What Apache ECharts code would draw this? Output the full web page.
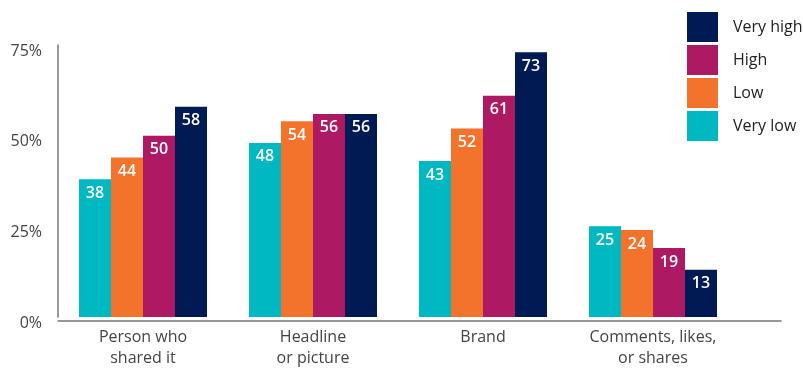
<!DOCTYPE html>
<html><head><meta charset="utf-8">
<script src="https://cdn.jsdelivr.net/npm/echarts@6/dist/echarts.min.js"></script>
<style>html,body{margin:0;padding:0;background:#fff}#c{width:803px;height:369px}</style>
</head><body><div id="c"></div>
<script>
const categories = ['Person who\nshared it', 'Headline\nor picture', 'Brand', 'Comments, likes,\nor shares'];
const veryLow = [38, 48, 43, 25];
const low = [44, 54, 52, 24];
const high = [50, 56, 61, 19];
const veryHigh = [58, 56, 73, 13];
const yTicks = [0, 25, 50, 75];
const FONT = 'Open Sans';
const colors = {vl:'#00B8C1', l:'#F3722C', h:'#AD1962', vh:'#001A54'};
const chart = echarts.init(document.getElementById('c'));
function s(name, data, color){
  return {name, type:'bar', data, barWidth:32, barGap:'0%', itemStyle:{color},
    label:{show:true, position:'insideTop', distance:6, color:'#fff', fontFamily:FONT, fontSize:16, fontWeight:600}};
}
chart.setOption({
  animation:false,
  textStyle:{fontFamily:FONT},
  legend:{orient:'vertical', left:682, top:7, itemWidth:31, itemHeight:30, itemGap:3, icon:'rect',
    data:['Very high','High','Low','Very low'], textStyle:{fontSize:16, color:'#222', fontFamily:FONT, padding:[0,0,0,10]}, itemStyle:{borderWidth:0}},
  grid:[{left:58, right:65, top:45, bottom:48},{left:58, right:22, top:45, bottom:48}],
  xAxis:[{type:'category', data:categories, gridIndex:0, axisLine:{show:false}, axisTick:{show:false},
     axisLabel:{color:'#444', fontSize:16, lineHeight:21, margin:10, fontFamily:FONT}},
    {type:'value', gridIndex:1, min:0, max:1, axisLine:{show:true, lineStyle:{color:'#777', width:1.5}}, axisTick:{show:false}, axisLabel:{show:false}, splitLine:{show:false}}],
  yAxis:[{type:'value', gridIndex:0, min:0, max:75, interval:25, axisLine:{show:true, lineStyle:{color:'#777', width:1.5}}, axisTick:{show:false}, splitLine:{show:false},
     axisLabel:{formatter:v=>yTicks.includes(v)?v+'%':'', color:'#444', fontSize:16, margin:16, verticalAlign:'top', lineHeight:12, fontFamily:FONT}},
    {type:'value', gridIndex:1, min:0, max:1, show:false}],
  series:[s('Very low', veryLow, colors.vl), s('Low', low, colors.l), s('High', high, colors.h), s('Very high', veryHigh, colors.vh)]
});
</script></body></html>
